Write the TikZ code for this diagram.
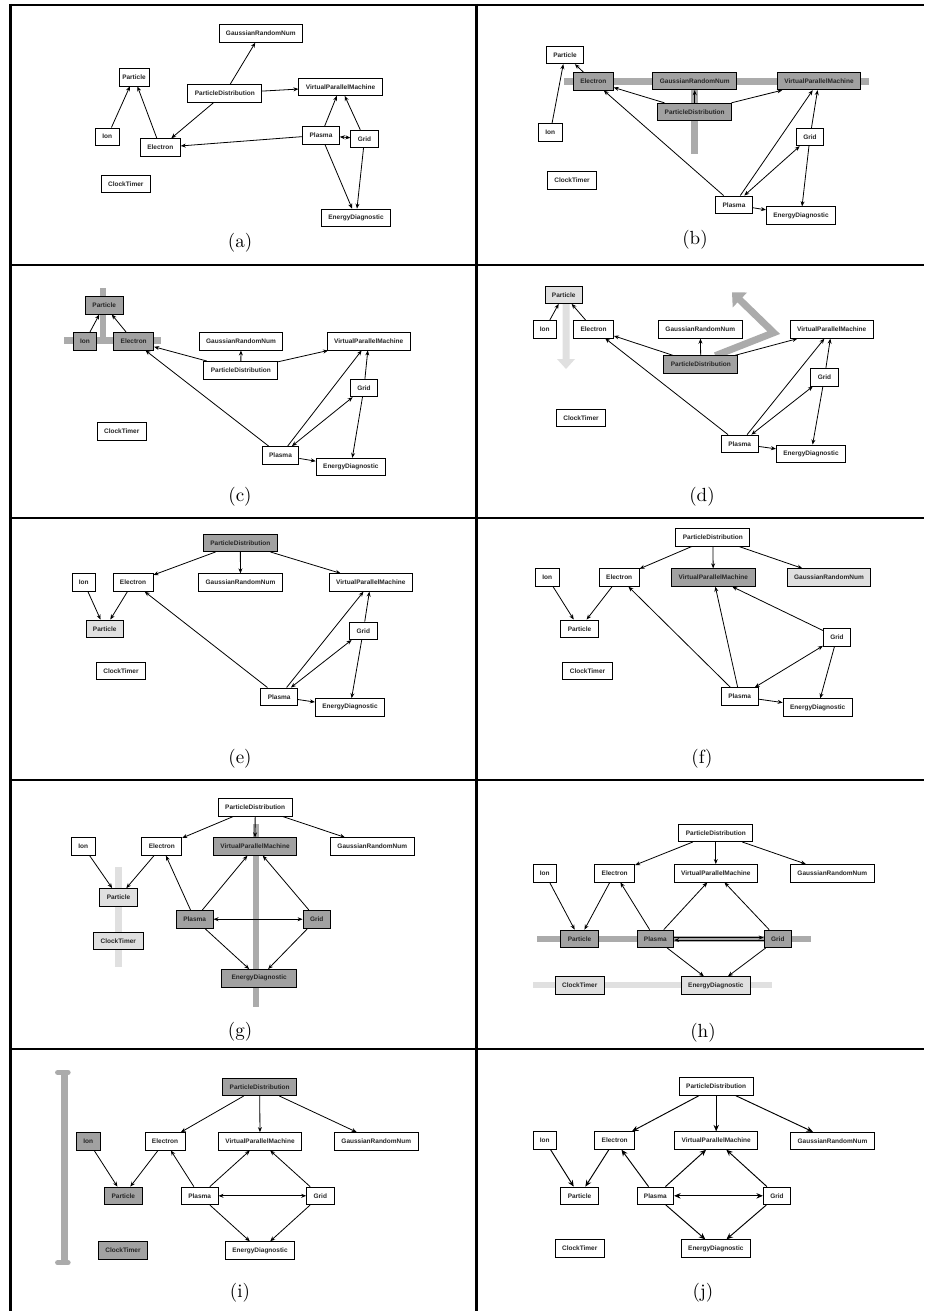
\documentclass[tikz,border=0pt]{standalone}
\usepackage{fontspec}
\usepackage{graphicx}
\newfontfamily\boxfont{Liberation Sans}
\usetikzlibrary{arrows.meta}
\tikzset{
  box/.style={draw=black, line width=0.85pt, fill=white, rectangle, minimum height=17.5pt,
    inner xsep=7pt, inner ysep=0pt, font=\boxfont\bfseries\fontsize{6.5}{7}\selectfont, text=black!85},
  dk/.style={fill=black!37},
  lt/.style={fill=black!12},
  arr/.style={line width=0.8pt, -{Stealth[length=5pt,width=4pt]}},
  darr/.style={line width=0.8pt, {Stealth[length=5pt,width=4pt]}-{Stealth[length=5pt,width=4pt]}},
  barr/.style={line width=0.95pt, -{Stealth[length=6.5pt,width=5.5pt]}},
  bdarr/.style={line width=0.95pt, {Stealth[length=6.5pt,width=5.5pt]}-{Stealth[length=6.5pt,width=5.5pt]}},
  bandm/.style={fill=black!33, draw=none},
  bandl/.style={fill=black!12, draw=none},
  plab/.style={font=\fontsize{10}{12}\selectfont, inner sep=0pt},
  hframe/.style={line width=2pt, black},
  vframe/.style={line width=3pt, black}
}
\newcommand\bx[4][]{\node[box,#1] (#2) at (#3) {#4};}
\newcommand\plabel[1]{\scalebox{1.9}{#1}}
\newcommand\alledges[2]{%
  \draw[#2] (#1io) -- (#1pt);
  \draw[#2] (#1el) -- (#1pt);
  \draw[#2] (#1pd) -- (#1el);
  \draw[#2] (#1pd) -- (#1vp);
  \draw[#2] (#1pd) -- (#1ga);
  \draw[#2] (#1pl) -- (#1el);
  \draw[#2] (#1pl) -- (#1vp);
  \draw[#2] (#1gd) -- (#1vp);
  \draw[#2] (#1pl) -- (#1ed);
  \draw[#2] (#1gd) -- (#1ed);
}
\begin{document}
\begin{tikzpicture}[x=1pt,y=-1pt]
\useasboundingbox (0,0) rectangle (924,1311);
\fill[white] (0,0) rectangle (924,1311);
% frame
\draw[hframe] (10,5) -- (924,5);
\foreach \yy in {265,518,780} \draw[hframe] (10,\yy) -- (924,\yy);
\draw[hframe, line width=2.5pt] (10,1049) -- (924,1049);
\draw[vframe] (10,4) -- (10,1311);
\draw[vframe] (476,4) -- (476,1311);

% ---------- (a)
\bx[inner xsep=3.3pt]{apt}{134,77.2}{Particle}
\bx{aga}{260.8,33.5}{GaussianRandomNum}
\bx{apd}{224.8,93.2}{ParticleDistribution}
\bx{avp}{340.5,86.7}{VirtualParallelMachine}
\bx{aio}{107.3,136.7}{Ion}
\bx{ael}{160.3,147.5}{Electron}
\bx{apl}{321,135.2}{Plasma}
\bx{agd}{364.5,139}{Grid}
\bx{act}{125.8,183.8}{ClockTimer}
\bx{aed}{356,217.8}{EnergyDiagnostic}
\alledges{a}{arr}
\draw[darr] (apl) -- (agd);
\node[plab] (la) at (240,243) {\plabel{(a)}};

% ---------- (b)
\fill[bandm] (564.3,78.3) rectangle (868.7,85);
\fill[bandm] (691.4,85) rectangle (698,154);
\bx{bpt}{565,55}{Particle}
\bx[dk]{bel}{593.3,81.3}{Electron}
\bx[dk]{bga}{694.7,81}{GaussianRandomNum}
\bx[dk]{bvp}{819,81}{VirtualParallelMachine}
\bx[dk]{bpd}{694.7,112}{ParticleDistribution}
\bx{bio}{550.3,132.5}{Ion}
\bx{bgd}{810,137}{Grid}
\bx{bct}{572,180.5}{ClockTimer}
\bx{bpl}{734,204.7}{Plasma}
\bx{bed}{801,215.5}{EnergyDiagnostic}
\alledges{b}{arr}
\draw[darr] (bpl) -- (bgd);
\node[plab] (lb) at (695,240) {\plabel{(b)}};

% ---------- (c)
\fill[bandm] (100,288.3) rectangle (106,337.3);
\fill[bandm] (64,337.3) rectangle (161,344);
\bx[dk]{cpt}{104.2,305.3}{Particle}
\bx[dk]{cio}{85,341.3}{Ion}
\bx[dk]{cel}{133.7,341.3}{Electron}
\bx{cga}{241,341.3}{GaussianRandomNum}
\bx{cvp}{368.7,341.3}{VirtualParallelMachine}
\bx{cpd}{240.8,370.2}{ParticleDistribution}
\bx{cgd}{364,388}{Grid}
\bx{cct}{121.7,431.3}{ClockTimer}
\bx{cpl}{280.5,455.3}{Plasma}
\bx{ced}{350.8,467}{EnergyDiagnostic}
\alledges{c}{arr}
\draw[darr] (cpl) -- (cgd);
\node[plab] (lc) at (240,496.7) {\plabel{(c)}};

% ---------- (d)
\fill[bandl] (562.5,303.3) -- (569.5,303.3) -- (569.5,359) -- (575,359) -- (566,369)
   -- (557,359) -- (562.5,359) -- cycle;
\draw[black!33, line width=7pt, line join=miter, -{Triangle[length=11pt,width=20pt]}]
   (715.3,355.7) -- (773.7,332.7) -- (732,292.3);
\bx[lt]{dpt}{563.7,294.7}{Particle}
\bx{dio}{544.8,329.2}{Ion}
\bx{del}{593.5,329.2}{Electron}
\bx{dga}{700.3,329.5}{GaussianRandomNum}
\bx{dvp}{831.7,329.5}{VirtualParallelMachine}
\bx[dk]{dpd}{700.8,364.5}{ParticleDistribution}
\bx{dgd}{824.5,377.2}{Grid}
\bx{dct}{581,418}{ClockTimer}
\bx{dpl}{739.7,443.8}{Plasma}
\bx{ded}{811,453.7}{EnergyDiagnostic}
\alledges{d}{arr}
\draw[darr] (dpl) -- (dgd);
\node[plab] (ld) at (702,496.7) {\plabel{(d)}};

% ---------- (e)
\bx[dk]{epd}{240.3,542.8}{ParticleDistribution}
\bx{eio}{83.8,582.5}{Ion}
\bx{eel}{133,582.5}{Electron}
\bx{ega}{240.5,582.5}{GaussianRandomNum}
\bx{evp}{370.8,582.5}{VirtualParallelMachine}
\bx[lt]{ept}{104.7,628.7}{Particle}
\bx{egd}{363.3,630.8}{Grid}
\bx{ect}{121,671}{ClockTimer}
\bx{epl}{279.2,696.7}{Plasma}
\bx{eed}{350,707.3}{EnergyDiagnostic}
\alledges{e}{arr}
\draw[darr] (epl) -- (egd);
\node[plab] (le) at (240,758.7) {\plabel{(e)}};

% ---------- (f)
\bx{fpd}{712.8,537.5}{ParticleDistribution}
\bx{fio}{547.3,577.5}{Ion}
\bx{fel}{619.2,577.5}{Electron}
\bx[dk]{fvp}{713.3,577.5}{VirtualParallelMachine}
\bx[lt]{fga}{829,577.5}{GaussianRandomNum}
\bx{fpt}{579.5,628.7}{Particle}
\bx{fgd}{837,637.3}{Grid}
\bx{fct}{587.5,671}{ClockTimer}
\bx{fpl}{739.7,696.5}{Plasma}
\bx{fed}{817.7,707.5}{EnergyDiagnostic}
\alledges{f}{arr}
\draw[darr] (fpl) -- (fgd);
\node[plab] (lf) at (702,758.7) {\plabel{(f)}};

% ---------- (g)
\fill[bandl] (115.2,867.3) rectangle (122.2,967.3);
\fill[bandm] (252.7,824) rectangle (259.3,1006.7);
\bx{gpd}{255.2,807.3}{ParticleDistribution}
\bx{gio}{83.3,846.5}{Ion}
\bx{gel}{161.8,846.5}{Electron}
\bx[dk]{gvp}{255,846.5}{VirtualParallelMachine}
\bx{gga}{372.3,846.5}{GaussianRandomNum}
\bx[lt]{gpt}{118.5,897.3}{Particle}
\bx[dk]{gpl}{194.7,919.2}{Plasma}
\bx[dk]{ggd}{316.7,919.2}{Grid}
\bx[lt]{gct}{118.3,940.7}{ClockTimer}
\bx[dk, minimum width=75pt]{ged}{259.2,978.2}{EnergyDiagnostic}
\alledges{g}{arr}
\draw[darr] (gpl) -- (ggd);
\node[plab] (lg) at (240,1032) {\plabel{(g)}};

% ---------- (h)
\fill[bandm] (537,935.7) rectangle (811.3,942.3);
\fill[bandl] (533,982.3) rectangle (772,988.3);
\bx{hpd}{715.8,832.8}{ParticleDistribution}
\bx{hio}{544.8,873.2}{Ion}
\bx{hel}{614.7,873.2}{Electron}
\bx{hvp}{715.8,873.2}{VirtualParallelMachine}
\bx{hga}{832.3,873.2}{GaussianRandomNum}
\bx[dk]{hpt}{579.5,938.8}{Particle}
\bx[dk]{hpl}{655.3,938.8}{Plasma}
\bx[dk]{hgd}{777.8,938.8}{Grid}
\bx[lt]{hct}{579.7,985.5}{ClockTimer}
\bx[lt]{hed}{715.8,985.5}{EnergyDiagnostic}
\alledges{h}{arr}
\draw[arr] ([yshift=1.3pt]hpl.east) -- ([yshift=1.3pt]hgd.west);
\draw[arr] ([yshift=-1.3pt]hgd.west) -- ([yshift=-1.3pt]hpl.east);
\node[plab] (lh) at (703,1032.3) {\plabel{(h)}};

% ---------- (i)
\draw[black!33, line width=6.7pt] (64.3,1072) -- (64.3,1263);
\draw[black!33, line width=5.3pt, line cap=round] (57.7,1072.5) -- (68,1072.5);
\draw[black!33, line width=5.3pt, line cap=round] (57.7,1262.7) -- (68,1262.7);
\bx[dk]{ipd}{259.7,1086.8}{ParticleDistribution}
\bx[dk]{iio}{88.3,1141.3}{Ion}
\bx{iel}{165,1141.3}{Electron}
\bx{ivp}{260,1141.3}{VirtualParallelMachine}
\bx{iga}{376.3,1141.3}{GaussianRandomNum}
\bx[dk]{ipt}{123.3,1195.8}{Particle}
\bx{ipl}{199.7,1195.8}{Plasma}
\bx{igd}{320.3,1195.8}{Grid}
\bx[dk]{ict}{123,1250.5}{ClockTimer}
\bx{ied}{260,1250.5}{EnergyDiagnostic}
\alledges{i}{arr}
\draw[darr] (ipl) -- (igd);
\node[plab] (li) at (240,1292.7) {\plabel{(i)}};

% ---------- (j)
\bx{jpd}{716.2,1086.5}{ParticleDistribution}
\bx{jio}{544.8,1140.5}{Ion}
\bx{jel}{614.7,1140.5}{Electron}
\bx{jvp}{716.2,1140.5}{VirtualParallelMachine}
\bx{jga}{832.5,1141}{GaussianRandomNum}
\bx{jpt}{579.5,1195.8}{Particle}
\bx{jpl}{655.3,1195.8}{Plasma}
\bx{jgd}{777,1195.8}{Grid}
\bx{jct}{579.7,1248.5}{ClockTimer}
\bx{jed}{715.8,1248.5}{EnergyDiagnostic}
\alledges{j}{barr}
\draw[bdarr] (jpl) -- (jgd);
\node[plab] (lj) at (703,1292.7) {\plabel{(j)}};
\end{tikzpicture}
\end{document}
